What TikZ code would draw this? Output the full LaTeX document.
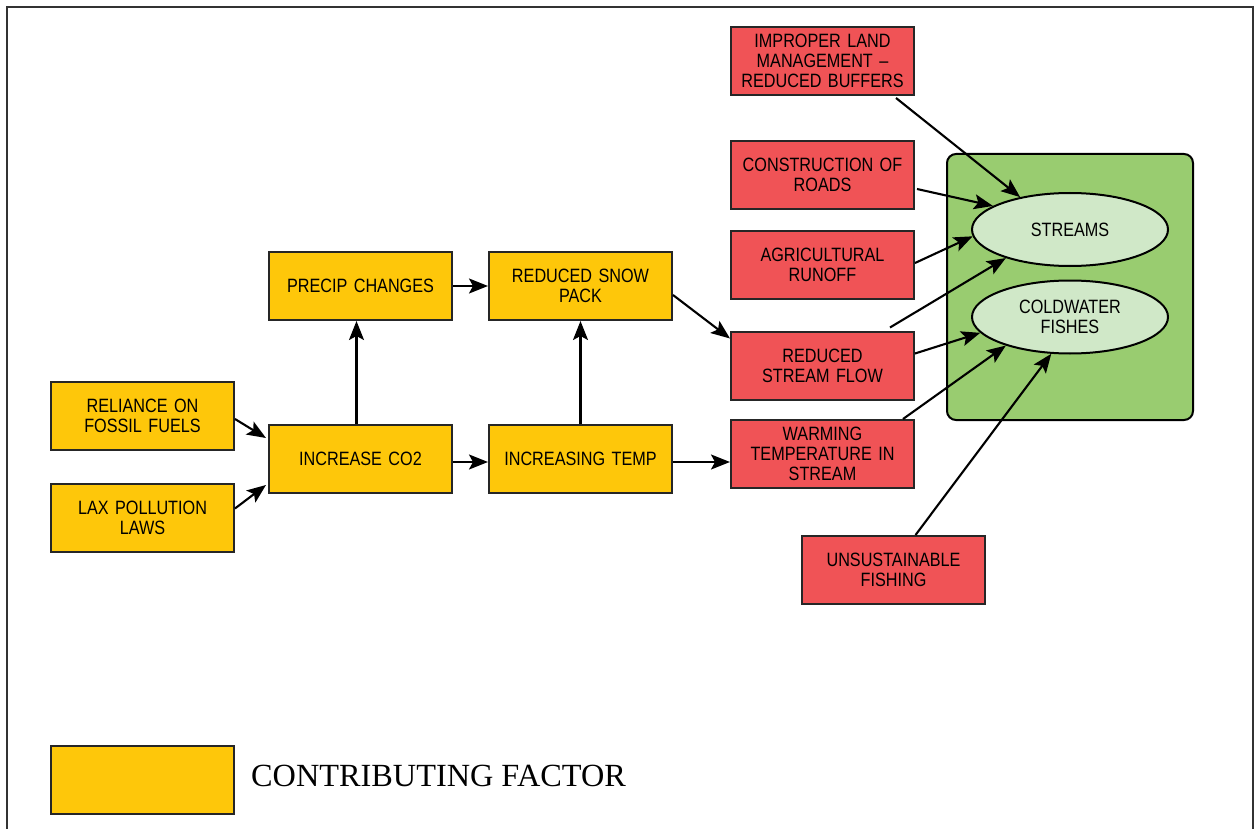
\documentclass[tikz,border=0pt]{standalone}
\usepackage{fontspec}
\setmainfont{Liberation Serif}
\newfontfamily\boxfont[FakeStretch=0.84,Ligatures=TeX]{Liberation Sans}
\usetikzlibrary{shapes.geometric,arrows.meta,calc}
\definecolor{fyel}{HTML}{FEC70A}
\definecolor{fred}{HTML}{F05356}
\definecolor{fgreen}{HTML}{99CC70}
\definecolor{flight}{HTML}{D0E8C8}
\begin{document}
\begin{tikzpicture}[x=1pt,y=-1pt,
  base/.style={draw=black!85,line width=2pt,minimum width=183pt,minimum height=68pt,
    text width=178pt,align=center,inner sep=0pt,font=\boxfont\fontsize{19.3}{20}\selectfont},
  yel/.style={base,fill=fyel},
  redb/.style={base,fill=fred},
  ell/.style={ellipse,draw=black,line width=2pt,fill=flight,minimum width=196pt,minimum height=73pt,
    inner sep=0pt,align=center,font=\boxfont\fontsize{19.3}{20}\selectfont},
  arr/.style={line width=2.1pt,-{Stealth[length=19pt,width=15pt,inset=4pt]}},
  frame/.style={line width=1.9pt,draw=black!80}]
\useasboundingbox (0,0) rectangle (1255,829);
\draw[frame] (7,829) -- (7,7) -- (1253,7) -- (1253,829);
% green container
\node[draw=black,line width=2pt,fill=fgreen,rounded corners=9pt,minimum width=246pt,minimum height=266pt] (grp) at (1070,287) {};
\node[ell] (str) at (1070,229.5) {STREAMS};
\node[ell] (cold) at (1070,317) {COLDWATER\\FISHES};
% yellow
\node[yel] (rel) at (142.5,416) {RELIANCE ON\\FOSSIL FUELS};
\node[yel] (lax) at (142.5,517.5) {LAX POLLUTION\\LAWS};
\node[yel] (co2) at (360.5,459) {INCREASE CO2};
\node[yel] (pre) at (360.5,286) {PRECIP CHANGES};
\node[yel] (snow) at (580.5,286) {REDUCED SNOW\\PACK};
\node[yel] (temp) at (580.5,459) {INCREASING TEMP};
% red
\node[redb] (imp) at (822.5,61) {IMPROPER LAND\\MANAGEMENT –\\REDUCED BUFFERS};
\node[redb] (con) at (822.5,175) {CONSTRUCTION OF\\ROADS};
\node[redb] (agr) at (822.5,265) {AGRICULTURAL\\RUNOFF};
\node[redb] (rsf) at (822.5,365.5) {REDUCED\\STREAM FLOW};
\node[redb] (warm) at (822.5,454) {WARMING\\TEMPERATURE IN\\STREAM};
\node[redb] (uns) at (893.5,570) {UNSUSTAINABLE\\FISHING};
% legend
\node[yel] (leg) at (142.5,780) {};
\node[anchor=west,inner sep=0pt,font=\fontsize{32.3}{34}\selectfont] (legt) at (251,776) {CONTRIBUTING FACTOR};
% arrows
\draw[arr] ($(rel.east)+(0,3)$) -- ($(co2.west)+(-2,-21)$);
\draw[arr] ($(lax.east)+(0,-9)$) -- ($(co2.west)+(-2,26)$);
\draw[arr] ($(co2.north)+(-4,0)$) -- ($(pre.south)+(-4,0)$);
\draw[arr] (pre.east) -- (snow.west);
\draw[arr] ($(co2.east)+(0,3)$) -- ($(temp.west)+(0,3)$);
\draw[arr] (temp.north) -- (snow.south);
\draw[arr] ($(snow.east)+(0,9)$) -- ($(rsf.north west)+(0,8)$);
\draw[arr] ($(temp.east)+(0,3)$) -- ($(temp.east -| warm.west)+(0,3)$);
\draw[arr] ($(imp.south east)+(-19,2)$) -- (str.147);
\draw[arr] ($(con.east)+(2,14)$) -- (str.163);
\draw[arr] ($(agr.east)+(0,-2)$) -- (str.184);
\draw[arr] ($(rsf.north east)+(-25,-3)$) -- (str.204);
\draw[arr] ($(rsf.east)+(0,-12)$) -- (cold.190);
\draw[arr] ($(warm.north east)+(-12,0)$) -- (cold.204);
\draw[arr] ($(uns.north)+(22,0)$) -- (cold.243);
\end{tikzpicture}
\end{document}
